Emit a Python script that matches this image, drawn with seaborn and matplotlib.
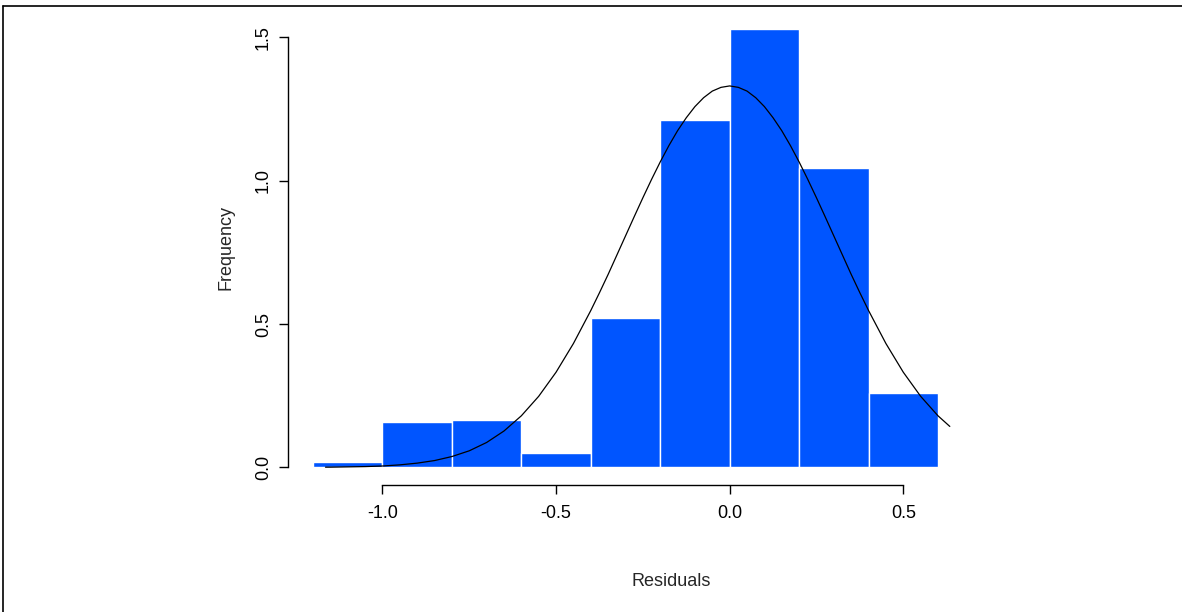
import numpy as np
import pandas as pd
import matplotlib
matplotlib.use("Agg")
import matplotlib.pyplot as plt
from matplotlib.lines import Line2D
import seaborn as sns

# Histogram of residuals (density scale), bin width 0.2
bin_edges = [-1.2, -1.0, -0.8, -0.6, -0.4, -0.2, 0.0, 0.2, 0.4, 0.6]
bar_heights = [0.02, 0.16, 0.167, 0.052, 0.52, 1.21, 1.528, 1.045, 0.258]

# Fitted density curve
curve_x = [-1.164, -1.15, -1.10, -1.05, -1.00, -0.95, -0.90, -0.85, -0.80, -0.75,
           -0.70, -0.65, -0.60, -0.55, -0.50, -0.45, -0.40, -0.375, -0.35, -0.325,
           -0.30, -0.275, -0.25, -0.225, -0.20, -0.175, -0.15, -0.125, -0.10, -0.075,
           -0.05, -0.025, 0.00, 0.025, 0.05, 0.075, 0.10, 0.125, 0.15, 0.175,
           0.20, 0.225, 0.25, 0.275, 0.30, 0.325, 0.35, 0.375, 0.40, 0.45,
           0.50, 0.55, 0.60, 0.634]
curve_y = [0.001, 0.001, 0.002, 0.003, 0.005, 0.009, 0.015, 0.024, 0.038, 0.058,
           0.087, 0.127, 0.180, 0.248, 0.332, 0.432, 0.547, 0.609, 0.673, 0.740,
           0.807, 0.874, 0.940, 1.004, 1.065, 1.122, 1.174, 1.219, 1.258, 1.289,
           1.312, 1.325, 1.330, 1.325, 1.312, 1.289, 1.258, 1.219, 1.174, 1.122,
           1.065, 1.004, 0.940, 0.874, 0.807, 0.740, 0.673, 0.609, 0.547, 0.432,
           0.332, 0.248, 0.180, 0.143]

x_ticks = [-1.0, -0.5, 0.0, 0.5]
y_ticks = [0.0, 0.5, 1.0, 1.5]
x_title = "Residuals"
y_title = "Frequency"

sns.set_theme(style="white")
plt.rcParams["font.family"] = ["Liberation Sans", "DejaVu Sans"]

W, H = 1182, 612
fig = plt.figure(figsize=(W / 100, H / 100), dpi=100)
left, right, top, bottom = 288, 963, 11, 485
ax = fig.add_axes([left / W, (H - bottom) / H, (right - left) / W, (bottom - top) / H])

centers = [(a + b) / 2 for a, b in zip(bin_edges[:-1], bin_edges[1:])]
hist_df = pd.DataFrame({"x": centers, "h": bar_heights})
sns.histplot(data=hist_df, x="x", weights="h", bins=bin_edges, stat="count",
             color="#0055ff", alpha=1.0, edgecolor="white", linewidth=1.0, ax=ax)

curve_df = pd.DataFrame({"x": curve_x, "y": curve_y})
sns.lineplot(data=curve_df, x="x", y="y", color="black", linewidth=0.9,
             sort=False, ax=ax)

ax.set_xlim(-1.272, 0.672)
ax.set_ylim(-0.0612, 1.5912)
ax.set_xticks(x_ticks)
ax.set_xticklabels([f"{t:.1f}" for t in x_ticks])
ax.set_yticks(y_ticks)
ax.set_yticklabels([f"{t:.1f}" for t in y_ticks], rotation=90, va="center")
ax.set_xlabel("")
ax.set_ylabel("")

for side in ["top", "right"]:
    ax.spines[side].set_visible(False)
for side in ["left", "bottom"]:
    ax.spines[side].set_color("black")
    ax.spines[side].set_linewidth(1.0)
ax.spines["left"].set_bounds(0.0, 1.5)
ax.spines["bottom"].set_bounds(-1.0, 0.5)
ax.tick_params(axis="both", which="major", direction="out", length=6.5, width=1.0,
               color="black", labelsize=13, labelcolor="black",
               bottom=True, left=True)
ax.tick_params(axis="x", pad=8)
ax.tick_params(axis="y", pad=5)

fig.text(671 / W, 1 - 582 / H, x_title, ha="center", va="center", fontsize=13)
fig.text(226 / W, 1 - 248 / H, y_title, ha="center", va="center", fontsize=13,
         rotation=90)

# Outer frame lines along the top and left edges
fig.add_artist(Line2D([3 / W, 1.0], [1 - 6 / H, 1 - 6 / H], color="black",
                      linewidth=1.2, transform=fig.transFigure))
fig.add_artist(Line2D([3 / W, 3 / W], [0.0, 1 - 6 / H], color="black",
                      linewidth=1.2, transform=fig.transFigure))

fig.savefig("out.png", dpi=100, facecolor="white")
